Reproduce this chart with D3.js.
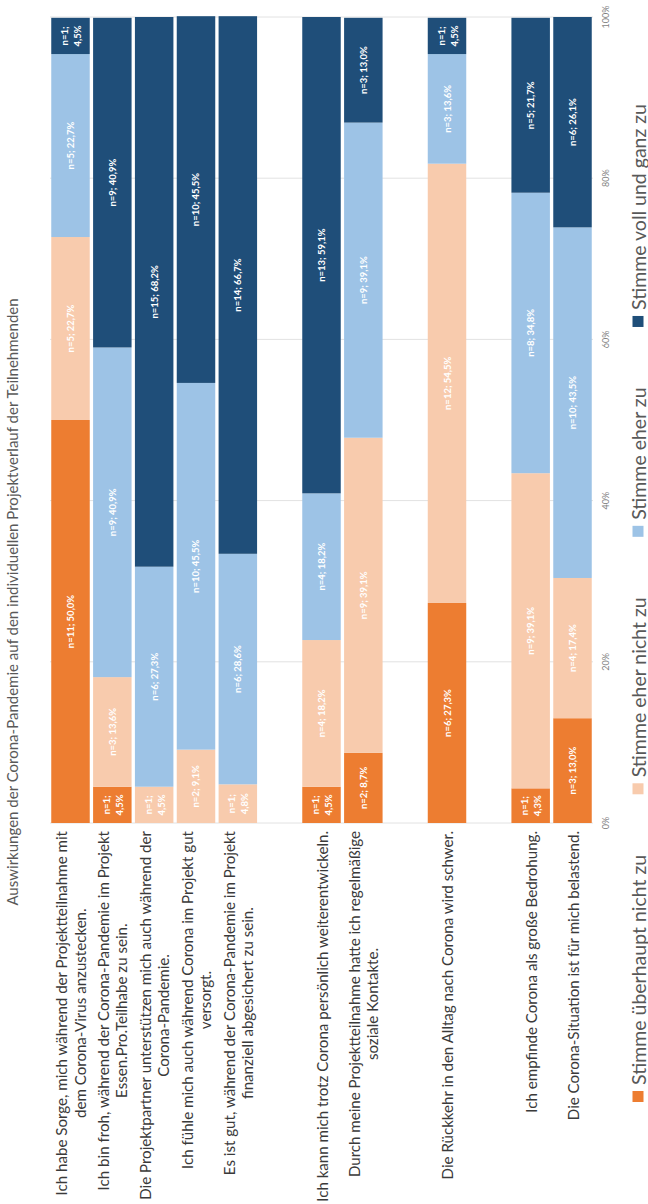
<!DOCTYPE html>
<html><head><meta charset="utf-8">
<script src="https://cdn.jsdelivr.net/npm/d3@7"></script>
<style>body{margin:0;background:#fff}svg{display:block}</style>
</head><body><svg id="c" width="648" height="1204"></svg>
<script>
const title = "Auswirkungen der Corona-Pandemie auf den individuellen Projektverlauf der Teilnehmenden";
const categories = [
  ["Ich habe Sorge, mich während der Projektteilnahme mit", "dem Corona-Virus anzustecken."],
  ["Ich bin froh, während der Corona-Pandemie im Projekt", "Essen.Pro.Teilhabe zu sein."],
  ["Die Projektpartner unterstützen mich auch während der", "Corona-Pandemie."],
  ["Ich fühle mich auch während Corona im Projekt gut", "versorgt."],
  ["Es ist gut, während der Corona-Pandemie im Projekt", "finanziell abgesichert zu sein."],
  ["Ich kann mich trotz Corona persönlich weiterentwickeln."],
  ["Durch meine Projektteilnahme hatte ich regelmäßige", "soziale Kontakte."],
  ["Die Rückkehr in den Alltag nach Corona wird schwer."],
  ["Ich empfinde Corona als große Bedrohung."],
  ["Die Corona-Situation ist für mich belastend."]
];
const groups = [[0,1,2,3,4],[5,6],[7],[8,9]];
const seriesNames = ["Stimme überhaupt nicht zu","Stimme eher nicht zu","Stimme eher zu","Stimme voll und ganz zu"];
const nUeberhauptNicht  = [11, 1, 0, 0, 0, 1, 2, 6, 1, 3];
const pctUeberhauptNicht= [50.0, 4.5, 0, 0, 0, 4.5, 8.7, 27.3, 4.3, 13.0];
const nEherNicht        = [5, 3, 1, 2, 1, 4, 9, 12, 9, 4];
const pctEherNicht      = [22.7, 13.6, 4.5, 9.1, 4.8, 18.2, 39.1, 54.5, 39.1, 17.4];
const nEher             = [5, 9, 6, 10, 6, 4, 9, 3, 8, 10];
const pctEher           = [22.7, 40.9, 27.3, 45.5, 28.6, 18.2, 39.1, 13.6, 34.8, 43.5];
const nVoll             = [1, 9, 15, 10, 14, 13, 3, 1, 5, 6];
const pctVoll           = [4.5, 40.9, 68.2, 45.5, 66.7, 59.1, 13.0, 4.5, 21.7, 26.1];
const tickValues = [0, 20, 40, 60, 80, 100];
const colors = ["#ED7D31", "#F8CBAD", "#9DC3E6", "#1F4E79"];

const nArr = [nUeberhauptNicht, nEherNicht, nEher, nVoll];
const pArr = [pctUeberhauptNicht, pctEherNicht, pctEher, pctVoll];
const keys = seriesNames;
const table = categories.map((c, i) => {
  const o = {idx: i};
  keys.forEach((k, j) => { o[k] = pArr[j][i]; });
  return o;
});

const slots = [];
groups.forEach((g, gi) => {
  if (gi > 0) slots.push("gap" + gi);
  g.forEach(i => slots.push("c" + i));
});

const W = 1204, H = 648;
const FONT = "Lato, 'Open Sans', sans-serif";
const svg = d3.select("#c");
const g = svg.append("g").attr("transform", `translate(0,${W}) rotate(-90)`);

const x = d3.scaleLinear().domain([0, 100]).range([381, 1187]);
const y = d3.scaleBand().domain(slots).range([50, 593]).paddingInner(0.08).paddingOuter(0.03);

const loc = d3.formatLocale({decimal: ",", thousands: ".", grouping: [3], currency: ["", "€"]});
const f1 = loc.format(".1f");

// gridlines
g.append("g").selectAll("line").data(tickValues).join("line")
  .attr("x1", d => x(d)).attr("x2", d => x(d))
  .attr("y1", y.range()[0]).attr("y2", y.range()[1])
  .attr("stroke", "#e2e2e2").attr("stroke-width", 1);

// stacked bars
const stack = d3.stack().keys(keys)(table);
const segs = g.append("g");
stack.forEach((layer, j) => {
  layer.forEach((d, i) => {
    if (pArr[j][i] <= 0) return;
    segs.append("rect")
      .attr("x", x(d[0])).attr("width", x(d[1]) - x(d[0]))
      .attr("y", y("c" + i)).attr("height", y.bandwidth())
      .attr("fill", colors[j]);
  });
});

// value labels
const lab = g.append("g").attr("font-family", FONT)
  .attr("font-size", 9.5).attr("font-weight", "bold").attr("fill", "#fff");
stack.forEach((layer, j) => {
  layer.forEach((d, i) => {
    if (pArr[j][i] <= 0) return;
    const cx = (x(d[0]) + x(d[1])) / 2, cy = y("c" + i) + y.bandwidth() / 2;
    const full = "n=" + nArr[j][i] + "; " + f1(pArr[j][i]) + "%";
    const t = lab.append("text").attr("x", cx).attr("y", cy)
      .attr("text-anchor", "middle").attr("dominant-baseline", "central").text(full);
    const segLen = x(d[1]) - x(d[0]);
    if (t.node().getComputedTextLength() > segLen - 3) {
      t.text(null);
      t.append("tspan").attr("x", cx).attr("y", cy - 6.5).text("n=" + nArr[j][i] + ";");
      t.append("tspan").attr("x", cx).attr("y", cy + 6.5).text(f1(pArr[j][i]) + "%");
    }
  });
});

// category labels (right-aligned block, lines centered)
const catG = g.append("g").attr("font-family", FONT).attr("font-size", 13).attr("fill", "#3a3a3a");
const labelRight = 373, labelLeft = 2;
const catTexts = [];
categories.forEach((lines, i) => {
  const ts = lines.map(ln => catG.append("text").attr("dominant-baseline", "central")
    .attr("text-anchor", "middle").text(ln));
  catTexts.push(ts);
});
const longest = d3.max(catTexts.flat(), t => t.node().getComputedTextLength());
const catSize = 13 * (labelRight - labelLeft) / longest;
catG.attr("font-size", catSize);
const lh = catSize * 1.2;
catTexts.forEach((ts, i) => {
  const cy = y("c" + i) + y.bandwidth() / 2;
  const maxW = d3.max(ts, t => t.node().getComputedTextLength());
  ts.forEach((t, k) => t.attr("x", labelRight - maxW / 2)
    .attr("y", cy + (k - (ts.length - 1) / 2) * lh));
});

// tick labels
g.append("g").attr("font-family", FONT).attr("font-size", 9).attr("fill", "#7f7f7f")
  .selectAll("text").data(tickValues).join("text")
  .attr("x", d => x(d)).attr("y", 605).attr("text-anchor", "middle").attr("dominant-baseline", "central")
  .text(d => d + "%");

// title (centred on the whole chart)
const tt = g.append("text").attr("x", W / 2).attr("y", 12)
  .attr("font-family", FONT).attr("font-size", 14).attr("fill", "#595959")
  .attr("text-anchor", "middle").attr("dominant-baseline", "central").text(title);
tt.attr("font-size", 14 * 608 / tt.node().getComputedTextLength());

// legend
const leg = g.append("g").attr("font-family", FONT).attr("font-size", 19.5).attr("fill", "#595959");
const legY = 638, sw = 11, legStart = 102, legEnd = 1100;
const items = seriesNames.map((s, j) => {
  const r = leg.append("rect").attr("width", sw).attr("height", sw).attr("y", legY - sw / 2).attr("fill", colors[j]);
  const t = leg.append("text").attr("y", legY).attr("dominant-baseline", "central").text(s);
  return {r, t, w: sw + 6 + t.node().getComputedTextLength()};
});
const gap = (legEnd - legStart - d3.sum(items, d => d.w)) / (items.length - 1);
let cur = legStart;
items.forEach(it => {
  it.r.attr("x", cur);
  it.t.attr("x", cur + sw + 6);
  cur += it.w + gap;
});
</script>
</body></html>
